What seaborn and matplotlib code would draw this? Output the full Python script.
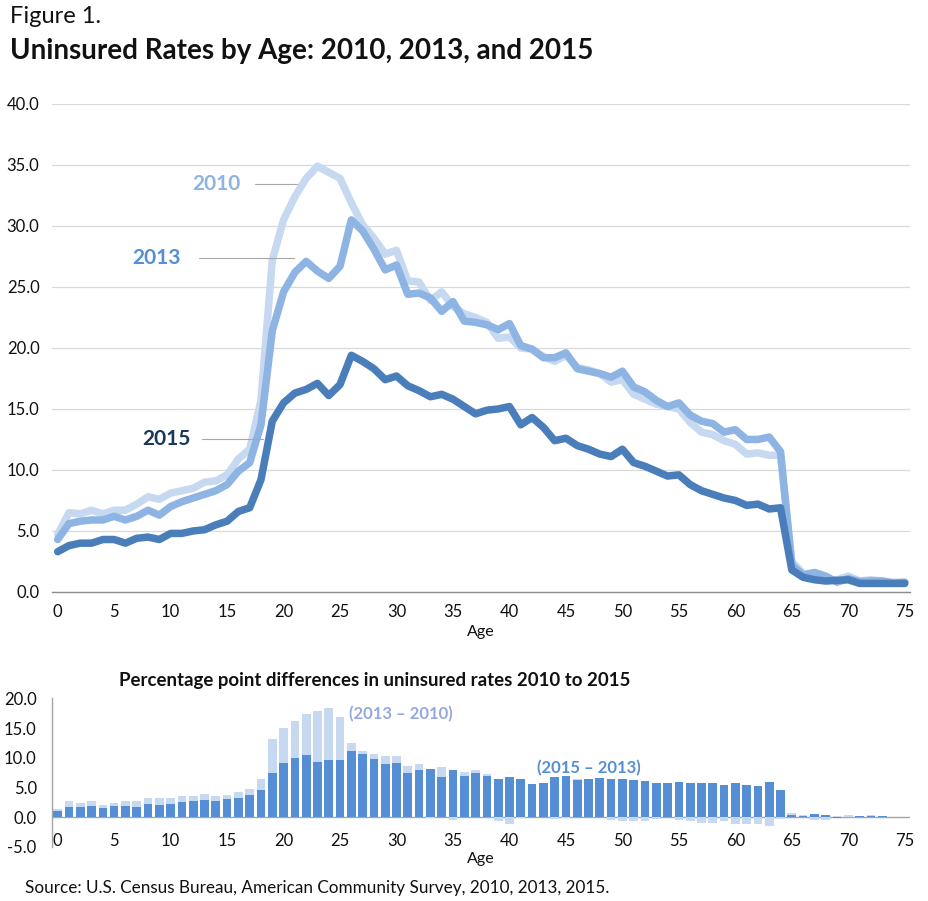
import numpy as np
import pandas as pd
import matplotlib
matplotlib.use("Agg")
import matplotlib.pyplot as plt
import seaborn as sns

# ---------------- Data ----------------
ages = list(range(0, 76))

rate_2010 = [4.7, 6.5, 6.4, 6.7, 6.4, 6.7, 6.7, 7.2, 7.8, 7.6,
             8.1, 8.3, 8.5, 9.0, 9.1, 9.6, 10.9, 11.7, 15.7, 27.2,
             30.5, 32.4, 33.9, 34.9, 34.4, 33.9, 31.9, 30.1, 29.0, 27.7,
             28.0, 25.5, 25.4, 23.9, 24.6, 23.4, 22.8, 22.5, 22.1, 20.8,
             20.9, 20.0, 19.9, 19.3, 18.9, 19.4, 18.4, 18.2, 17.9, 17.2,
             17.4, 16.2, 15.8, 15.4, 15.2, 15.0, 13.9, 13.1, 12.9, 12.4,
             12.1, 11.3, 11.4, 11.2, 11.2, 2.5, 1.5, 1.1, 0.9, 1.0,
             1.3, 0.9, 1.0, 0.9, 0.8, 0.8]

rate_2013 = [4.3, 5.6, 5.8, 5.9, 5.9, 6.2, 5.9, 6.2, 6.7, 6.3,
             7.0, 7.4, 7.7, 8.0, 8.3, 8.8, 9.9, 10.6, 13.7, 21.4,
             24.6, 26.2, 27.1, 26.3, 25.7, 26.7, 30.5, 29.6, 28.1, 26.4,
             26.8, 24.4, 24.5, 24.1, 23.0, 23.8, 22.2, 22.1, 21.9, 21.5,
             22.0, 20.2, 19.9, 19.2, 19.2, 19.6, 18.3, 18.1, 17.9, 17.6,
             18.1, 16.8, 16.4, 15.7, 15.2, 15.5, 14.5, 14.0, 13.8, 13.1,
             13.3, 12.5, 12.5, 12.7, 11.5, 2.2, 1.4, 1.6, 1.3, 0.8,
             1.1, 0.85, 0.9, 0.9, 0.7, 0.8]

rate_2015 = [3.3, 3.8, 4.0, 4.0, 4.3, 4.3, 4.0, 4.4, 4.5, 4.3,
             4.8, 4.8, 5.0, 5.1, 5.5, 5.8, 6.6, 6.9, 9.2, 14.0,
             15.5, 16.3, 16.6, 17.1, 16.1, 17.0, 19.4, 18.9, 18.3, 17.4,
             17.7, 16.9, 16.5, 16.0, 16.2, 15.8, 15.2, 14.6, 14.9, 15.0,
             15.2, 13.7, 14.3, 13.5, 12.4, 12.6, 12.0, 11.7, 11.3, 11.1,
             11.7, 10.6, 10.3, 9.9, 9.5, 9.6, 8.8, 8.3, 8.0, 7.7,
             7.5, 7.1, 7.2, 6.8, 6.9, 1.8, 1.2, 1.0, 0.9, 0.95,
             1.0, 0.7, 0.7, 0.7, 0.7, 0.7]

years = ["2010", "2013", "2015"]
line_colors = {"2010": "#C6D9F1", "2013": "#8EB4E3", "2015": "#4A7EBB"}
label_colors = {"2010": "#8EB4E3", "2013": "#558ED5", "2015": "#17375E"}
bar_light = "#C6D9F1"
bar_dark = "#558ED5"

df = pd.DataFrame({"Age": ages, "2010": rate_2010, "2013": rate_2013, "2015": rate_2015})
long_df = df.melt(id_vars="Age", value_vars=years, var_name="Year", value_name="Rate")

# stacked differences: dark = 2013 - 2015, light stacked on it = 2010 - 2013
diff_dark = df["2013"] - df["2015"]
diff_light = df["2010"] - df["2013"]
light_top = np.where(diff_light >= 0,
                     np.maximum(diff_dark, 0) + diff_light,
                     np.minimum(diff_dark, 0) + diff_light)
bars = pd.DataFrame({"Age": ages, "light": light_top, "dark": diff_dark})

# ---------------- Figure ----------------
sns.set_theme(style="white")
plt.rcParams["font.family"] = ["Lato", "DejaVu Sans"]

fig = plt.figure(figsize=(9.29, 9.01), dpi=100)

fig.text(0.011, 0.993, "Figure 1.", fontsize=17, va="top", ha="left", color="#111111")
fig.text(0.011, 0.958, "Uninsured Rates by Age: 2010, 2013, and 2015", fontsize=20,
         fontweight="bold", va="top", ha="left", color="#111111")

# ---- top line chart ----
ax = fig.add_axes([0.056, 0.343, 0.924, 0.5416])
sns.lineplot(data=long_df, x="Age", y="Rate", hue="Year", hue_order=years,
             palette=line_colors, linewidth=5.4, legend=False, ax=ax,
             solid_joinstyle="round", solid_capstyle="round")
ax.set_xlim(-0.5, 75.5)
ax.set_ylim(0, 40)
ax.set_yticks(np.arange(0, 41, 5))
ax.set_yticklabels([f"{v:.1f}" for v in np.arange(0, 41, 5)])
ax.set_xticks(range(0, 76, 5))
ax.yaxis.grid(True, color="#D9D9D9", linewidth=0.9)
ax.set_axisbelow(True)
for s in ["left", "right", "top"]:
    ax.spines[s].set_visible(False)
ax.spines["bottom"].set_color("#8C8C8C")
ax.spines["bottom"].set_linewidth(1.0)
ax.tick_params(axis="both", length=0, labelsize=12, colors="#111111")
ax.tick_params(axis="y", pad=9)
ax.tick_params(axis="x", pad=9)
ax.set_xlabel("Age", fontsize=11.5, labelpad=3, color="#111111")
ax.set_ylabel("")

# series labels with leader lines
ax.text(16.2, 33.4, "2010", fontsize=15, fontweight="bold", color=label_colors["2010"],
        ha="right", va="center")
ax.plot([17.5, 21.2], [33.4, 33.4], color="#A6A6A6", linewidth=0.8)
ax.text(10.9, 27.4, "2013", fontsize=15, fontweight="bold", color=label_colors["2013"],
        ha="right", va="center")
ax.plot([12.5, 20.9], [27.4, 27.4], color="#A6A6A6", linewidth=0.8)
ax.text(11.8, 12.5, "2015", fontsize=15, fontweight="bold", color=label_colors["2015"],
        ha="right", va="center")
ax.plot([12.8, 18.2], [12.5, 12.5], color="#A6A6A6", linewidth=0.8)

# ---- bottom difference bars ----
ax2 = fig.add_axes([0.056, 0.060, 0.924, 0.165])
sns.barplot(data=bars, x="Age", y="light", color=bar_light, native_scale=True,
            width=0.77, errorbar=None, ax=ax2, linewidth=0, saturation=1)
sns.barplot(data=bars, x="Age", y="dark", color=bar_dark, native_scale=True,
            width=0.77, errorbar=None, ax=ax2, linewidth=0, saturation=1)
ax2.set_xlim(-0.5, 75.5)
ax2.set_ylim(-5, 20)
ax2.set_yticks(np.arange(-5, 21, 5))
ax2.set_yticklabels([f"{v:.1f}" for v in np.arange(-5, 21, 5)])
ax2.set_xticks(range(0, 76, 5))
ax2.set_xticklabels([str(a) for a in range(0, 76, 5)])
ax2.axhline(0, color="#A6A6A6", linewidth=1.0, zorder=0)
for s in ["right", "top", "bottom"]:
    ax2.spines[s].set_visible(False)
ax2.spines["left"].set_color("#A6A6A6")
ax2.spines["left"].set_linewidth(1.0)
ax2.tick_params(axis="y", direction="in", length=4, color="#A6A6A6", labelsize=12,
                labelcolor="#111111", pad=11)
ax2.tick_params(axis="x", length=0, labelsize=12, labelcolor="#111111", pad=-10)
ax2.set_xlabel("Age", fontsize=11.5, labelpad=2, color="#111111")
ax2.set_ylabel("")
ax2.set_title("Percentage point differences in uninsured rates 2010 to 2015",
              fontsize=13.4, fontweight="bold", color="#111111", x=0.376, pad=9)

ax2.text(25.8, 17.4, "(2013 \u2013 2010)", fontsize=12, fontweight="bold",
         color="#95A9DF", ha="left", va="center")
ax2.text(42.4, 8.3, "(2015 \u2013 2013)", fontsize=12, fontweight="bold",
         color="#558ED5", ha="left", va="center")

fig.text(0.027, 0.006, "Source: U.S. Census Bureau, American Community Survey, 2010, 2013, 2015.",
         fontsize=12.3, ha="left", va="bottom", color="#111111")

fig.savefig("out.png", dpi=100)
